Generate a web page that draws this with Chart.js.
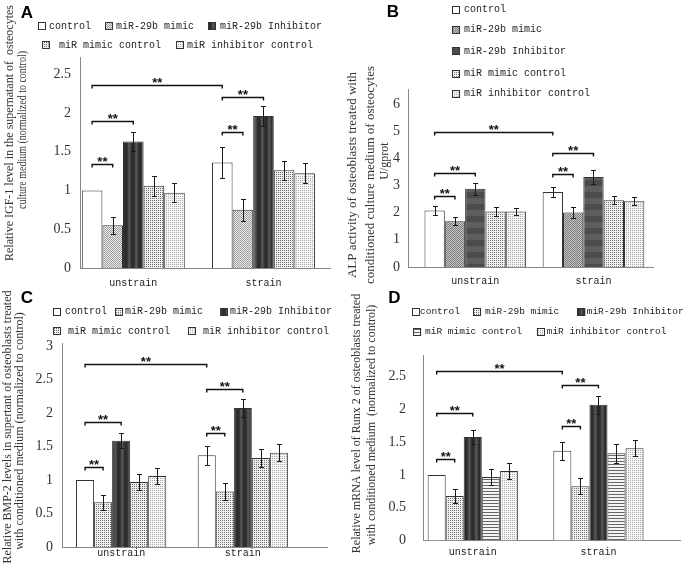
<!DOCTYPE html>
<html><head><meta charset="utf-8">
<script src="https://cdn.jsdelivr.net/npm/chart.js@4.4.1/dist/chart.umd.min.js"></script>
<style>
body{margin:0;background:#fff;width:685px;height:566px;position:relative;overflow:hidden}
canvas{position:absolute}
</style></head><body>
<canvas id="cA" width="340" height="290" style="left:0;top:0;width:340px;height:290px"></canvas>
<canvas id="cB" width="345" height="290" style="left:340px;top:0;width:345px;height:290px"></canvas>
<canvas id="cC" width="340" height="276" style="left:0;top:290px;width:340px;height:276px"></canvas>
<canvas id="cD" width="345" height="276" style="left:340px;top:290px;width:345px;height:276px"></canvas>
<script>
const categories = ['unstrain', 'strain'];
const seriesNames = ['control', 'miR-29b mimic', 'miR-29b Inhibitor', 'miR mimic control', 'miR inhibitor control'];

// Panel A - IGF-1
const igfControl = [1.00, 1.36];
const igfMimic = [0.55, 0.75];
const igfInhibitor = [1.63, 1.96];
const igfMimicCtrl = [1.06, 1.26];
const igfInhibitorCtrl = [0.97, 1.22];
const igfControlErr = [0, 0.20];
const igfMimicErr = [0.11, 0.14];
const igfInhibitorErr = [0.12, 0.13];
const igfMimicCtrlErr = [0.13, 0.12];
const igfInhibitorCtrlErr = [0.12, 0.13];
const igfTicks = [0, 0.5, 1, 1.5, 2, 2.5];
const igfSig = [[0,0,1,0,1.34],[0,0,2,0,1.89],[0,0,0,1,2.36],[0,1,1,1,1.75],[0,1,2,1,2.20]];

// Panel B - ALP
const alpControl = [2.08, 2.76];
const alpMimic = [1.68, 2.01];
const alpInhibitor = [2.88, 3.31];
const alpMimicCtrl = [2.04, 2.46];
const alpInhibitorCtrl = [2.04, 2.42];
const alpControlErr = [0.17, 0.18];
const alpMimicErr = [0.15, 0.19];
const alpInhibitorErr = [0.22, 0.26];
const alpMimicCtrlErr = [0.16, 0.16];
const alpInhibitorCtrlErr = [0.14, 0.14];
const alpTicks = [0, 1, 2, 3, 4, 5, 6];
const alpSig = [[0,0,1,0,2.63],[0,0,2,0,3.46],[0,0,0,1,4.96],[0,1,1,1,3.42],[0,1,2,1,4.19]];

// Panel C - BMP-2
const bmpControl = [1.00, 1.37];
const bmpMimic = [0.67, 0.83];
const bmpInhibitor = [1.59, 2.08];
const bmpMimicCtrl = [0.97, 1.33];
const bmpInhibitorCtrl = [1.06, 1.41];
const bmpControlErr = [0, 0.14];
const bmpMimicErr = [0.11, 0.13];
const bmpInhibitorErr = [0.11, 0.13];
const bmpMimicCtrlErr = [0.12, 0.14];
const bmpInhibitorCtrlErr = [0.12, 0.13];
const bmpTicks = [0, 0.5, 1, 1.5, 2, 2.5, 3];
const bmpSig = [[0,0,1,0,1.20],[0,0,2,0,1.87],[0,0,0,1,2.74],[0,1,1,1,1.71],[0,1,2,1,2.36]];

// Panel D - Runx 2
const runxControl = [1.00, 1.37];
const runxMimic = [0.68, 0.83];
const runxInhibitor = [1.58, 2.07];
const runxMimicCtrl = [0.97, 1.33];
const runxInhibitorCtrl = [1.06, 1.41];
const runxControlErr = [0, 0.14];
const runxMimicErr = [0.11, 0.12];
const runxInhibitorErr = [0.11, 0.14];
const runxMimicCtrlErr = [0.12, 0.14];
const runxInhibitorCtrlErr = [0.12, 0.12];
const runxTicks = [0, 0.5, 1, 1.5, 2, 2.5];
const runxSig = [[0,0,1,0,1.25],[0,0,2,0,1.94],[0,0,0,1,2.59],[0,1,1,1,1.74],[0,1,2,1,2.38]];

// ---------- pattern helpers ----------
function tileCanvas(w, h, fn) { const c = document.createElement('canvas'); c.width = w; c.height = h; fn(c.getContext('2d')); return c; }
function checker(ctx, a, b) { return ctx.createPattern(tileCanvas(2, 2, g => { g.fillStyle = b; g.fillRect(0,0,2,2); g.fillStyle = a; g.fillRect(0,0,1,1); g.fillRect(1,1,1,1); }), 'repeat'); }
function dots(ctx, bg, fg, n, pts) { return ctx.createPattern(tileCanvas(n, n, g => { g.fillStyle = bg; g.fillRect(0,0,n,n); g.fillStyle = fg; pts.forEach(p => g.fillRect(p[0], p[1], 1, 1)); }), 'repeat'); }
function vstripes(ctx, cols) { return ctx.createPattern(tileCanvas(cols.length, 1, g => { cols.forEach((c, i) => { g.fillStyle = c; g.fillRect(i,0,1,1); }); }), 'repeat'); }
function hstripes(ctx, rows) { return ctx.createPattern(tileCanvas(1, rows.length, g => { rows.forEach((c, i) => { g.fillStyle = c; g.fillRect(0,i,1,1); }); }), 'repeat'); }
const darkV = ['#2e2e2e','#363636','#4e4e4e','#555555','#444444','#333333','#2a2a2a'];

const decorConfigs = {};

const decorPlugin = {
  id: 'decor',
  afterDatasetsDraw(chart) {
    const o = decorConfigs[chart.canvas.id];
    const ctx = chart.ctx, ys = chart.scales.y;
    ctx.save();
    ctx.strokeStyle = '#1a1a1a'; ctx.lineWidth = 1;
    chart.data.datasets.forEach((ds, di) => {
      const meta = chart.getDatasetMeta(di);
      meta.data.forEach((bar, j) => {
        const e = ds.errors[j]; if (!e) return;
        const v = ds.data[j].y;
        const x = Math.round(bar.x) + 0.5;
        const t = Math.round(ys.getPixelForValue(v + e)) + 0.5;
        const b = Math.round(ys.getPixelForValue(v - e)) + 0.5;
        ctx.beginPath();
        ctx.moveTo(x, t); ctx.lineTo(x, b);
        ctx.moveTo(x - 2.5, t); ctx.lineTo(x + 2.5, t);
        ctx.moveTo(x - 2.5, b); ctx.lineTo(x + 2.5, b);
        ctx.stroke();
      });
    });
    ctx.lineWidth = 1.4; ctx.strokeStyle = '#111'; ctx.fillStyle = '#111';
    ctx.font = 'bold 13px "Liberation Sans"'; ctx.textAlign = 'center'; ctx.textBaseline = 'alphabetic';
    o.brackets.forEach(([d1, c1, d2, c2, yv]) => {
      const x1 = chart.getDatasetMeta(d1).data[c1].x, x2 = chart.getDatasetMeta(d2).data[c2].x;
      const y = Math.round(ys.getPixelForValue(yv)) + 0.5;
      ctx.beginPath(); ctx.moveTo(x1, y + 3); ctx.lineTo(x1, y); ctx.lineTo(x2, y); ctx.lineTo(x2, y + 3); ctx.stroke();
      ctx.fillText('**', (x1 + x2) / 2, y + 1);
    });
    ctx.restore();
  },
  afterDraw(chart) {
    const o = decorConfigs[chart.canvas.id];
    const ctx = chart.ctx;
    ctx.save();
    ctx.fillStyle = '#000'; ctx.font = 'bold 17px "Liberation Sans"'; ctx.textAlign = 'left'; ctx.textBaseline = 'alphabetic';
    ctx.fillText(o.letter.t, o.letter.x, o.letter.y);
    ctx.fillStyle = '#333'; ctx.textAlign = 'center'; ctx.textBaseline = 'middle';
    o.titles.forEach(l => {
      ctx.save(); ctx.translate(l.x, l.y); ctx.rotate(-Math.PI / 2);
      ctx.font = l.size + 'px "Liberation Serif"';
      if (l.mw) ctx.fillText(l.t, 0, 0, l.mw); else ctx.fillText(l.t, 0, 0);
      ctx.restore();
    });
    ctx.textAlign = 'left'; ctx.textBaseline = 'middle';
    ctx.font = o.legendSize + 'px "Liberation Mono"';
    o.legend.forEach(it => {
      const ds = chart.data.datasets[it.i];
      const top = Math.round(it.y - 4);
      ctx.fillStyle = '#fff'; ctx.fillRect(it.bx, top, 8, 8);
      ctx.fillStyle = ds.backgroundColor; ctx.fillRect(it.bx, top, 8, 8);
      ctx.strokeStyle = '#333'; ctx.lineWidth = 1; ctx.strokeRect(Math.round(it.bx) + 0.5, top + 0.5, 7, 7);
      ctx.fillStyle = '#222'; ctx.fillText(ds.label, it.tx, it.y);
    });
    ctx.restore();
  }
};

function buildChart(p) {
  const canvas = document.getElementById(p.id);
  const ctx = canvas.getContext('2d');
  const W = canvas.width, H = canvas.height;
  const pats = p.patterns(ctx);
  decorConfigs[p.id] = p.decor;
  const datasets = p.values.map((vals, s) => ({
    label: seriesNames[s],
    data: vals.map((v, i) => ({ x: i + 1, y: v })),
    errors: p.errors[s],
    backgroundColor: pats[s],
    borderColor: '#333333',
    borderWidth: 1,
    borderSkipped: 'bottom',
    categoryPercentage: p.catPct,
    barPercentage: 1
  }));
  return new Chart(ctx, {
    type: 'bar',
    data: { datasets },
    plugins: [decorPlugin],
    options: {
      responsive: false, animation: false, devicePixelRatio: 1,
      layout: { padding: { left: 0, top: p.area.top, right: W - p.area.right, bottom: 0 } },
      plugins: { legend: { display: false }, tooltip: { enabled: false } },
      scales: {
        x: {
          type: 'linear', min: p.xMin, max: p.xMax, offset: false,
          grid: { display: false, drawTicks: false },
          border: { display: true, color: '#888', width: 1 },
          afterBuildTicks: s => { s.ticks = categories.map((c, i) => ({ value: i + 1 })); },
          ticks: { callback: v => categories[Math.round(v) - 1], autoSkip: false, maxRotation: 0,
                   font: { family: 'Liberation Mono', size: p.xFont }, color: '#222', padding: p.xPad },
          afterFit: s => { s.height = H - p.area.bottom; }
        },
        y: {
          min: 0, max: p.yMax,
          grid: { display: false, drawTicks: false },
          border: { display: true, color: '#888', width: 1 },
          afterBuildTicks: s => { s.ticks = p.yTicks.map(v => ({ value: v })); },
          ticks: { callback: v => String(v), font: { family: 'Liberation Serif', size: 14 }, color: '#333', padding: p.yPad },
          afterFit: s => { s.width = p.area.left; }
        }
      }
    }
  });
}

buildChart({
  id: 'cA', area: { left: 80, right: 330, top: 57, bottom: 268 },
  xMin: 0.5906, xMax: 2.511, catPct: 0.791, yMax: 2.72, yTicks: igfTicks, yPad: 9, xPad: 9, xFont: 10,
  values: [igfControl, igfMimic, igfInhibitor, igfMimicCtrl, igfInhibitorCtrl],
  errors: [igfControlErr, igfMimicErr, igfInhibitorErr, igfMimicCtrlErr, igfInhibitorCtrlErr],
  patterns: ctx => ['#ffffff', checker(ctx, '#9a9a9a', '#efefef'), vstripes(ctx, darkV),
    dots(ctx, '#f0f0f0', '#6a6a6a', 2, [[0,0]]), dots(ctx, '#f7f7f7', '#a8a8a8', 2, [[0,0]])],
  decor: {
    letter: { t: 'A', x: 20.7, y: 18 },
    titles: [
      { t: 'Relative IGF-1 level in the supernatant of  osteocytes', x: 10, y: 133, size: 12 },
      { t: 'culture medium (normalized to control)', x: 23, y: 130, size: 12, mw: 158 }
    ],
    legendSize: 10,
    legend: [{ i: 0, bx: 38, tx: 49, y: 26 }, { i: 1, bx: 105, tx: 116, y: 26 }, { i: 2, bx: 208, tx: 220, y: 26 },
             { i: 3, bx: 42, tx: 59, y: 45 }, { i: 4, bx: 176, tx: 187, y: 45 }],
    brackets: igfSig
  }
});

buildChart({
  id: 'cB', area: { left: 68, right: 313, top: 89, bottom: 267 },
  xMin: 0.4306, xMax: 2.5036, catPct: 0.86, yMax: 6.55, yTicks: alpTicks, yPad: 8, xPad: 8, xFont: 10,
  values: [alpControl, alpMimic, alpInhibitor, alpMimicCtrl, alpInhibitorCtrl],
  errors: [alpControlErr, alpMimicErr, alpInhibitorErr, alpMimicCtrlErr, alpInhibitorCtrlErr],
  patterns: ctx => ['#ffffff', checker(ctx, '#7c7c7c', '#c4c4c4'),
    hstripes(ctx, ['#4c4c4c','#4c4c4c','#4c4c4c','#4c4c4c','#4c4c4c','#4c4c4c','#5e5e5e','#5e5e5e','#5e5e5e','#5e5e5e','#5e5e5e','#5e5e5e']),
    dots(ctx, '#eeeeee', '#7a7a7a', 2, [[0,0]]), dots(ctx, '#f5f5f5', '#aaaaaa', 2, [[0,0]])],
  decor: {
    letter: { t: 'B', x: 46.7, y: 16.7 },
    titles: [
      { t: 'ALP activity of osteoblasts treated with', x: 13, y: 175, size: 13 },
      { t: 'conditioned culture medium of osteocytes', x: 31, y: 175, size: 13 },
      { t: 'U/gprot', x: 45, y: 161, size: 12 }
    ],
    legendSize: 10,
    legend: [{ i: 0, bx: 112, tx: 124, y: 9.5 }, { i: 1, bx: 112, tx: 124, y: 29.5 }, { i: 2, bx: 112, tx: 124, y: 51 },
             { i: 3, bx: 112, tx: 124, y: 73.5 }, { i: 4, bx: 112, tx: 124, y: 93.5 }],
    brackets: alpSig
  }
});

buildChart({
  id: 'cC', area: { left: 62, right: 327, top: 53, bottom: 257 },
  xMin: 0.514, xMax: 2.692, catPct: 0.741, yMax: 3.05, yTicks: bmpTicks, yPad: 9, xPad: 0, xFont: 10,
  values: [bmpControl, bmpMimic, bmpInhibitor, bmpMimicCtrl, bmpInhibitorCtrl],
  errors: [bmpControlErr, bmpMimicErr, bmpInhibitorErr, bmpMimicCtrlErr, bmpInhibitorCtrlErr],
  patterns: ctx => ['#ffffff', dots(ctx, '#efefef', '#767676', 2, [[0,0]]), vstripes(ctx, darkV),
    dots(ctx, '#eeeeee', '#6e6e6e', 2, [[0,0]]), dots(ctx, '#f7f7f7', '#aaaaaa', 2, [[0,0]])],
  decor: {
    letter: { t: 'C', x: 20.7, y: 13 },
    titles: [
      { t: 'Relative BMP-2 levels in supertant of osteoblasts treated', x: 7.5, y: 137, size: 12 },
      { t: 'with conditioned medium (normalized to control)', x: 20, y: 141, size: 12 }
    ],
    legendSize: 10,
    legend: [{ i: 0, bx: 53, tx: 65, y: 21.7 }, { i: 1, bx: 115, tx: 125, y: 21.7 }, { i: 2, bx: 220, tx: 230, y: 21.7 },
             { i: 3, bx: 53, tx: 68, y: 41 }, { i: 4, bx: 188, tx: 203, y: 41 }],
    brackets: bmpSig
  }
});

buildChart({
  id: 'cD', area: { left: 83, right: 340, top: 65, bottom: 256 },
  xMin: 0.604, xMax: 2.649, catPct: 0.718, yMax: 2.83, yTicks: runxTicks, yPad: 17, xPad: 6, xFont: 10,
  values: [runxControl, runxMimic, runxInhibitor, runxMimicCtrl, runxInhibitorCtrl],
  errors: [runxControlErr, runxMimicErr, runxInhibitorErr, runxMimicCtrlErr, runxInhibitorCtrlErr],
  patterns: ctx => ['#ffffff', dots(ctx, '#efefef', '#767676', 2, [[0,0]]), vstripes(ctx, darkV),
    hstripes(ctx, ['#666666', '#f4f4f4', '#f4f4f4']), dots(ctx, '#f7f7f7', '#aaaaaa', 2, [[0,0]])],
  decor: {
    letter: { t: 'D', x: 48.3, y: 13 },
    titles: [
      { t: 'Relative mRNA level of Runx 2 of osteoblasts treated', x: 17, y: 133.5, size: 12 },
      { t: 'with conditioned medium  (normalized to control)', x: 32, y: 135, size: 12 }
    ],
    legendSize: 9.5,
    legend: [{ i: 0, bx: 71.7, tx: 80, y: 21.7 }, { i: 1, bx: 133.3, tx: 145, y: 21.7 }, { i: 2, bx: 237.3, tx: 246.7, y: 21.7 },
             { i: 3, bx: 73.3, tx: 85, y: 41.7 }, { i: 4, bx: 196.7, tx: 206.7, y: 41.7 }],
    brackets: runxSig
  }
});
</script>
</body></html>
